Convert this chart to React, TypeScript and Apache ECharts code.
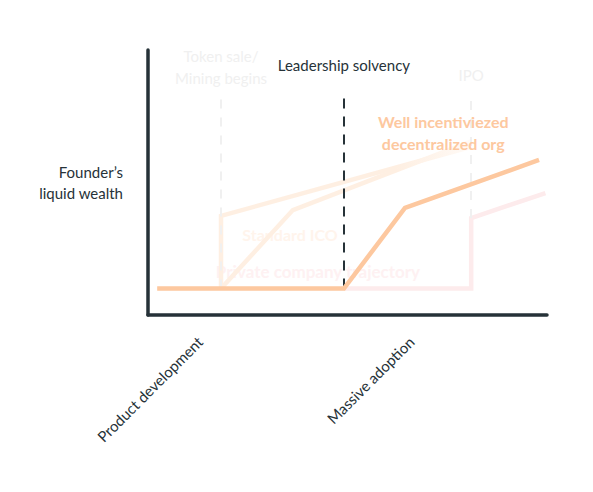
import React, { useEffect, useRef } from 'react';
import * as echarts from 'echarts';

// conceptual time (0-100) vs founder wealth (0-100)
const wellIncentivized = [[2.3, 10], [49.1, 10], [64.4, 40.4], [98, 58.5]];
const privateCompany = [[49.1, 10], [81, 10], [81, 36.6], [99.6, 46]];
const tokenSale = [[18.3, 10], [18.3, 37.4], [81, 63.5]];
const standardIco = [[18.3, 10], [36.3, 39.6], [81, 65.5]];

const eventNames = ['Token sale/\nMining begins', 'Leadership solvency', 'IPO'];
const eventX = [18.3, 49.1, 81];
const eventLabelY = [93.5, 94.5, 90.6];

const phaseNames = ['Product development', 'Massive adoption'];
const phaseX = [13, 66];

const DARK = '#263238';
const ORANGE = '#fdc89f';
const FAINT_ORANGE = '#feefe2';
const PINK = '#fdebec';
const FAINT_GRAY = '#f0f0f0';
const FONT = 'Lato, "Noto Sans", sans-serif';

// annotations: text, data coord, colour, size, bold, drawn above the lines
const notes: [string, number[], string, number, boolean, boolean][] = [
  [eventNames[0], [eventX[0], eventLabelY[0]], FAINT_GRAY, 15, false, false],
  [eventNames[1], [eventX[1], eventLabelY[1]], DARK, 15, false, true],
  [eventNames[2], [eventX[2], eventLabelY[2]], FAINT_GRAY, 15, false, false],
  ['Standard ICO', [35.6, 30.2], '#fff4ec', 16, true, false],
  ['Private company trajectory', [42.6, 16.6], '#fef1f2', 17, true, false],
  ['Well incentiviezed\ndecentralized org', [74, 68.7], ORANGE, 16, true, true],
];

const fade = (from: string) => new echarts.graphic.LinearGradient(0, 0, 1, 0, [
  { offset: 0, color: from },
  { offset: 0.7, color: from },
  { offset: 1, color: '#fffaf6' },
]);

const App: React.FC = () => {
  const ref = useRef<HTMLDivElement | null>(null);

  useEffect(() => {
    if (!ref.current) return;
    const chart = echarts.init(ref.current, undefined, { renderer: 'svg' });
    const line = (name: string, data: number[][], color: any, z: number, extra: any = {}) => ({
      name, type: 'line', data, symbol: 'none', z,
      lineStyle: { color, width: 4.5, cap: 'butt', join: 'miter' },
      ...extra,
    });

    chart.setOption({
      animation: false,
      textStyle: { fontFamily: FONT },
      grid: { left: 148, right: 46, top: 50, bottom: 177 },
      xAxis: {
        type: 'value', min: 0, max: 100,
        splitLine: { show: false }, axisTick: { show: false },
        axisLine: { show: true, lineStyle: { color: DARK, width: 3.5, cap: 'round' } },
        axisLabel: {
          customValues: phaseX, rotate: 45, margin: 24, fontSize: 15, color: DARK, fontFamily: FONT,
          formatter: (v: number) => phaseNames[phaseX.indexOf(v)] ?? '',
        },
      },
      yAxis: {
        type: 'value', min: 0, max: 100,
        splitLine: { show: false }, axisTick: { show: false }, axisLabel: { show: false },
        axisLine: { show: true, lineStyle: { color: DARK, width: 3.5, cap: 'round' } },
        name: 'Founder’s\nliquid wealth', nameLocation: 'middle', nameRotate: 0, nameGap: 25,
        nameTextStyle: { align: 'right', color: DARK, fontSize: 15, lineHeight: 21, fontFamily: FONT, padding: [0, 0, 18, 0] },
      },
      series: [
        line('Token sale', tokenSale, fade(FAINT_ORANGE), 2, {
          markLine: {
            symbol: 'none', silent: true,
            lineStyle: { type: [9, 9], width: 2, color: FAINT_GRAY },
            label: { show: false },
            data: [
              [{ coord: [eventX[0], 10] }, { coord: [eventX[0], 82.3] }],
              [{ coord: [eventX[2], 36.6] }, { coord: [eventX[2], 82.3] }],
            ],
          },
        }),
        line('Standard ICO', standardIco, fade(FAINT_ORANGE), 2),
        line('Private company trajectory', privateCompany, PINK, 3),
        line('Well incentiviezed decentralized org', wellIncentivized, ORANGE, 5, {
          markLine: {
            symbol: 'none', silent: true,
            lineStyle: { type: [10, 8], width: 2, color: DARK },
            label: { show: false },
            data: [[{ coord: [eventX[1], 10] }, { coord: [eventX[1], 82.3] }]],
          },
        }),
      ],
    });

    // place annotation texts at their data coordinates
    chart.setOption({
      graphic: notes.map(([text, coord, color, size, bold, onTop]) => {
        const [x, y] = chart.convertToPixel({ gridIndex: 0 }, coord) as number[];
        return {
          type: 'text', x, y, z: onTop ? 100 : 0, silent: true,
          style: {
            text, fill: color, fontSize: size, fontWeight: bold ? 'bold' : 'normal',
            fontFamily: FONT, align: 'center', verticalAlign: 'middle', lineHeight: 22,
          },
        };
      }),
    });
    return () => chart.dispose();
  }, []);

  return <div ref={ref} style={{ position: 'absolute', left: 0, top: 0, width: 593, height: 492, background: '#fff' }} />;
};

export default App;
